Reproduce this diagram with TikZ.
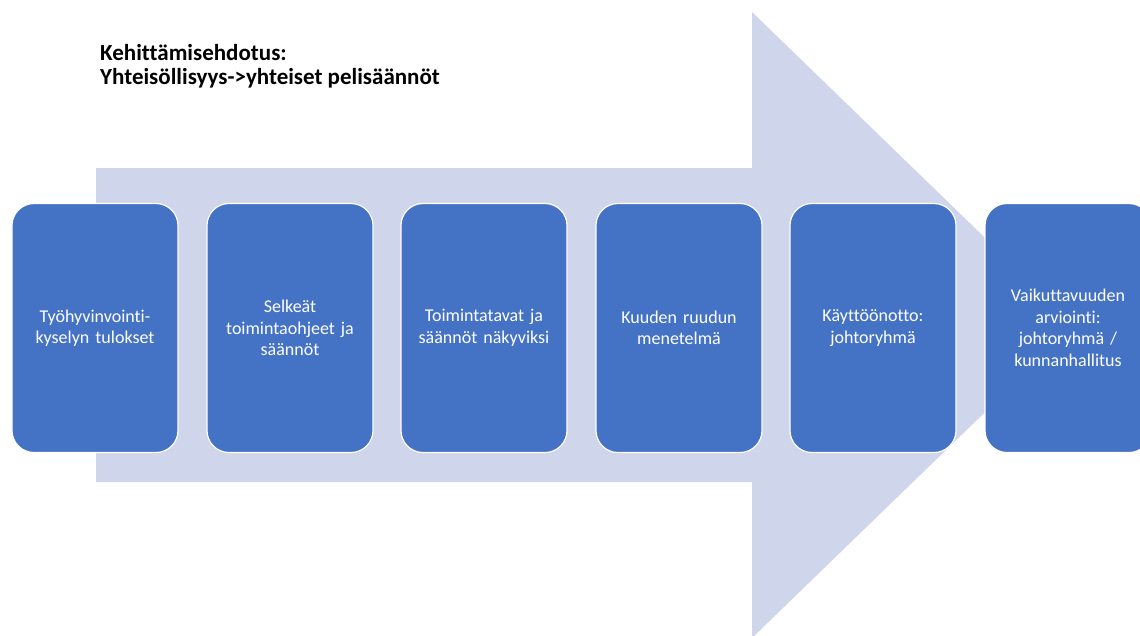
\documentclass[tikz,border=0pt]{standalone}
\usepackage{fontspec}
\setmainfont{Carlito}[Ligatures=NoCommon]
\definecolor{arrowfill}{HTML}{CFD5EA}
\definecolor{stepblue}{HTML}{4472C4}
\begin{document}
\begin{tikzpicture}[x=1pt,y=-1pt,
  stepbox/.style={rectangle, rounded corners=22pt, fill=stepblue, draw=white,
    line width=1.2pt, minimum width=166pt, minimum height=249pt,
    text=white, align=center, text width=155pt, inner sep=0pt,
    font=\fontsize{18}{21.5}\selectfont},
  titletext/.style={anchor=north west, align=left, inner sep=0pt,
    font=\fontsize{23}{24}\selectfont\bfseries}]
  \useasboundingbox (0,0) rectangle (1140,635);
  \clip (0,0) rectangle (1140,635);
  % background process arrow
  \fill[arrowfill] (96,168) -- (752,168) -- (752,12) -- (1075,325)
    -- (752,638) -- (752,482) -- (96,482) -- cycle;
  % title
  \node[titletext] (title) at (100,44)
    {Kehittämisehdotus:\\Yhteisöllisyys->yhteiset pelisäännöt};
  % process steps
  \node[stepbox] (s1) at (95,328) {Työhyvinvointi-\\kyselyn tulokset};
  \node[stepbox] (s2) at (290,328) {Selkeät\\toimintaohjeet ja\\säännöt};
  \node[stepbox] (s3) at (484,328) {Toimintatavat ja\\säännöt näkyviksi};
  \node[stepbox] (s4) at (679,328) {Kuuden ruudun\\menetelmä};
  \node[stepbox] (s5) at (873,328) {Käyttöönotto:\\johtoryhmä};
  \node[stepbox] (s6) at (1068,328) {Vaikuttavuuden\\arviointi:\\johtoryhmä /\\kunnanhallitus};
\end{tikzpicture}
\end{document}
